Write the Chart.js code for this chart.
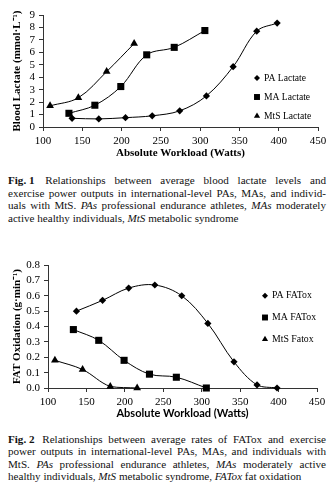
<!DOCTYPE html>
<html>
<head>
<meta charset="utf-8">
<script src="https://cdn.jsdelivr.net/npm/chart.js@4/dist/chart.umd.min.js"></script>
<style>
  html, body { margin: 0; padding: 0; background: #fff; }
  body { width: 336px; height: 500px; position: relative; overflow: hidden; }
  .plot { position: absolute; left: 0; }
  .caption {
    position: absolute; left: 8px; width: 318px;
    font-family: "Liberation Serif", "Times New Roman", serif;
    font-size: 11.1px; color: #111;
  }
  .caption div { white-space: nowrap; text-align: justify; text-align-last: justify; }
  .caption div.last { text-align-last: left; }
  .caption b { font-weight: bold; display: inline-block; margin-right: 2px; }
</style>
</head>
<body>
<div class="plot" style="top:0;"><canvas id="fig1" width="336" height="165"></canvas></div>
<div class="caption" id="cap1" style="top:174px; line-height:12.6px;">
  <div><b>Fig. 1</b> Relationships between average blood lactate levels and</div>
  <div>exercise power outputs in international-level PAs, MAs, and individ-</div>
  <div>uals with MtS. <i>PAs</i> professional endurance athletes, <i>MAs</i> moderately</div>
  <div class="last">active healthy individuals, <i>MtS</i> metabolic syndrome</div>
</div>
<div class="plot" style="top:245px;"><canvas id="fig2" width="336" height="177"></canvas></div>
<div class="caption" id="cap2" style="top:433px; line-height:12.3px;">
  <div><b>Fig. 2</b> Relationships between average rates of FATox and exercise</div>
  <div>power outputs in international-level PAs, MAs, and individuals with</div>
  <div>MtS. <i>PAs</i> professional endurance athletes, <i>MAs</i> moderately active</div>
  <div class="last">healthy individuals, <i>MtS</i> metabolic syndrome, <i>FATox</i> fat oxidation</div>
</div>
<script>
// Workload steps (Watts) for each group
const paWatts  = [137, 171, 205, 239, 274, 308, 342, 372, 398];
const maWatts  = [133, 166, 199, 232, 267, 306];
const mtsWatts = [109, 145, 181, 216];

// Blood lactate (mmol/L)
const paLactate  = [0.70, 0.65, 0.75, 0.90, 1.30, 2.50, 4.85, 7.70, 8.35];
const maLactate  = [1.10, 1.75, 3.25, 5.80, 6.40, 7.75];
const mtsLactate = [1.70, 2.35, 4.45, 6.70];

// Fat oxidation (g/min)
const paFatox  = [0.50, 0.57, 0.65, 0.67, 0.60, 0.42, 0.17, 0.02, 0.00];
const maFatox  = [0.38, 0.31, 0.18, 0.09, 0.07, 0.00];
const mtsFatox = [0.18, 0.12, 0.01, 0.00];

// Axis ranges
const wattsRange   = { min: 100, max: 450, step: 50 };
const lactateRange = { min: 0, max: 9, step: 1 };
const fatoxRange   = { min: 0, max: 0.8, step: 0.1 };

const SERIF = '"Liberation Serif", "Times New Roman", serif';
const INK = '#000';
const AXIS = '#333';

const pairs = (xs, ys) => xs.map((x, i) => ({ x, y: ys[i] }));

// Legend drawn inside the plot area, marker + label per dataset
const innerLegend = {
  id: 'innerLegend',
  afterDatasetsDraw(chart, args, opts) {
    const ctx = chart.ctx;
    ctx.save();
    ctx.font = opts.font;
    ctx.textBaseline = 'middle';
    ctx.fillStyle = INK;
    chart.data.datasets.forEach((ds, i) => {
      const y = opts.y + i * opts.gap;
      const r = opts.markerRadius[i];
      ctx.beginPath();
      if (Chart.helpers && Chart.helpers.drawPoint) {
        Chart.helpers.drawPoint(ctx, { pointStyle: ds.pointStyle, radius: r, rotation: 0, borderWidth: 0 }, opts.x, y);
      } else {
        ctx.rect(opts.x - r * 0.7, y - r * 0.7, r * 1.4, r * 1.4);
        ctx.fill();
      }
      ctx.fillStyle = INK;
      ctx.fillText(ds.label, opts.x + opts.textGap, y);
    });
    ctx.restore();
  }
};

function series(label, xs, ys, style, radius) {
  return {
    label,
    data: pairs(xs, ys),
    pointStyle: style,
    pointRadius: radius,
    pointHoverRadius: radius,
    pointBackgroundColor: INK,
    pointBorderColor: INK,
    pointBorderWidth: 0,
    borderColor: INK,
    borderWidth: 1,
    tension: 0.35,
    fill: false,
    clip: false
  };
}

function axes(yRange, yTitle, yTickFmt, yWidth, xHeight, xTitleFont, xTitlePad, yTitlePad) {
  return {
    x: {
      type: 'linear',
      min: wattsRange.min, max: wattsRange.max,
      afterFit: s => { s.height = xHeight; },
      ticks: { stepSize: wattsRange.step, autoSkip: false, maxRotation: 0, color: INK, padding: 4, font: { family: SERIF, size: 11 } },
      grid: { display: true, drawOnChartArea: false, drawTicks: true, tickLength: 4, color: AXIS },
      border: { display: true, color: AXIS, width: 1 },
      title: { display: true, text: 'Absolute Workload (Watts)', color: INK, font: xTitleFont, padding: { top: 0, bottom: xTitlePad } }
    },
    y: {
      type: 'linear',
      min: yRange.min, max: yRange.max,
      afterFit: s => { s.width = yWidth; },
      ticks: { stepSize: yRange.step, autoSkip: false, color: INK, padding: 4, font: { family: SERIF, size: 11 }, callback: yTickFmt },
      grid: { display: true, drawOnChartArea: false, drawTicks: true, tickLength: 4, color: AXIS },
      border: { display: true, color: AXIS, width: 1 },
      title: { display: true, text: yTitle, color: INK, font: { family: SERIF, size: 11, weight: 'bold' }, padding: { top: yTitlePad, bottom: 0 } }
    }
  };
}

const common = {
  responsive: false,
  animation: false,
  devicePixelRatio: 1,
  plugins: { legend: { display: false }, tooltip: { enabled: false } }
};

new Chart(document.getElementById('fig1'), {
  type: 'line',
  data: {
    datasets: [
      series('PA Lactate', paWatts, paLactate, 'rectRot', 3.6),
      series('MA Lactate', maWatts, maLactate, 'rect', 5),
      series('MtS Lactate', mtsWatts, mtsLactate, 'triangle', 4.5)
    ]
  },
  options: Object.assign({}, common, {
    layout: { padding: { top: 15, right: 18, left: 0, bottom: 0 } },
    scales: axes(lactateRange, 'Blood Lactate (mmol·L⁻¹)', v => v, 43, 38,
      { family: SERIF, size: 11, weight: 'bold' }, 5, 11),
    plugins: Object.assign({}, common.plugins, {
      innerLegend: { x: 257, y: 78, gap: 19, textGap: 7, markerRadius: [3, 4.2, 3.6], font: '9.6px ' + SERIF }
    })
  }),
  plugins: [innerLegend]
});

new Chart(document.getElementById('fig2'), {
  type: 'line',
  data: {
    datasets: [
      series('PA FATox', paWatts, paFatox, 'rectRot', 3.6),
      series('MA FATox', maWatts, maFatox, 'rect', 5),
      series('MtS Fatox', mtsWatts, mtsFatox, 'triangle', 4.5)
    ]
  },
  options: Object.assign({}, common, {
    layout: { padding: { top: 20, right: 19, left: 0, bottom: 0 } },
    scales: axes(fatoxRange, 'FAT Oxidation (g·min⁻¹)', v => Number(v).toFixed(1), 48, 34,
      { family: 'Lato, "Liberation Sans", sans-serif', size: 11, weight: 'bold' }, 2, 11),
    plugins: Object.assign({}, common.plugins, {
      innerLegend: { x: 265, y: 50.7, gap: 21.8, textGap: 7, markerRadius: [3, 4.2, 3.6], font: '9.8px ' + SERIF }
    })
  }),
  plugins: [innerLegend]
});
</script>
</body>
</html>
